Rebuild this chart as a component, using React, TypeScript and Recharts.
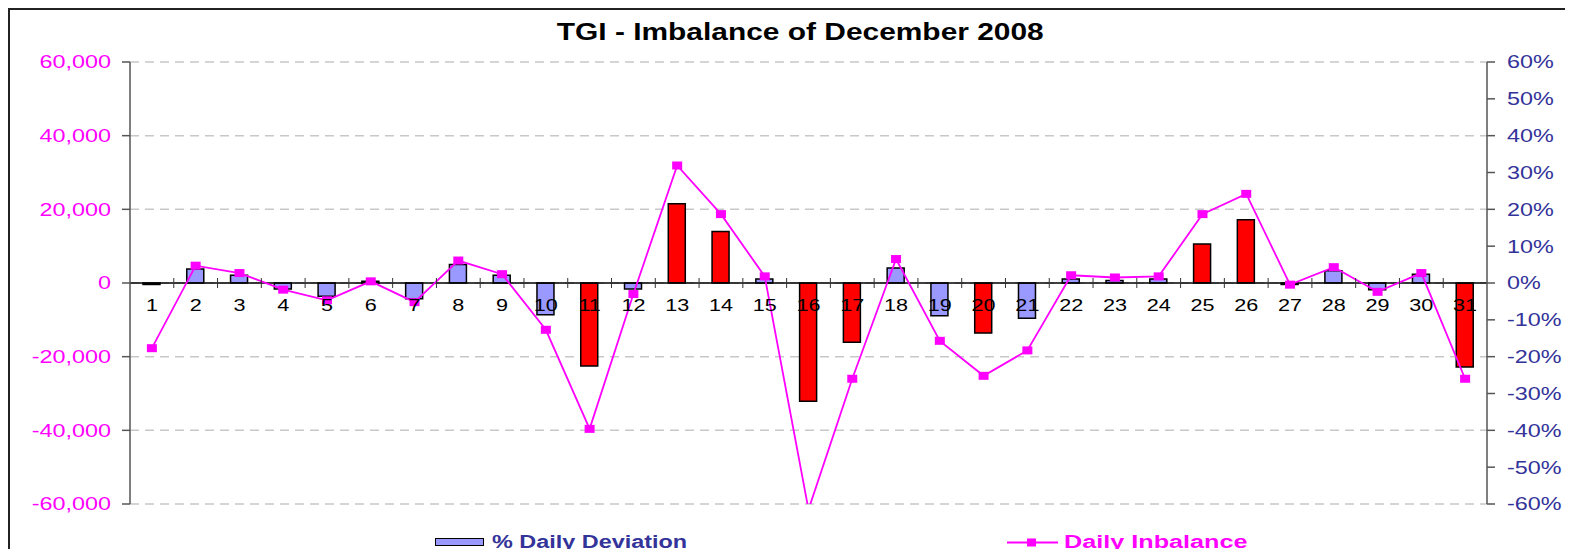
import React from 'react';
import {
  ComposedChart,
  Bar,
  Line,
  Cell,
  XAxis,
  YAxis,
  CartesianGrid,
  ReferenceLine,
} from 'recharts';

// days of December 2008
const days = [
  '1', '2', '3', '4', '5', '6', '7', '8', '9', '10', '11', '12', '13', '14', '15', '16',
  '17', '18', '19', '20', '21', '22', '23', '24', '25', '26', '27', '28', '29', '30', '31',
];

// % daily deviation (bars, right axis)
const deviation = [
  -0.004, 0.038, 0.021, -0.016, -0.036, 0.005, -0.043, 0.05, 0.021, -0.086, -0.225, -0.016,
  0.215, 0.14, 0.011, -0.321, -0.161, 0.041, -0.089, -0.136, -0.096, 0.011, 0.007, 0.011,
  0.106, 0.172, -0.004, 0.033, -0.018, 0.024, -0.228,
];

// daily imbalance (line, left axis)
const imbalance = [
  -17700, 4700, 2700, -1800, -4700, 450, -5200, 6100, 2400, -12700, -39600, -3000, 31900,
  18700, 1800, -61500, -26000, 6500, -15700, -25200, -18300, 2100, 1500, 1800, 18700, 24200,
  -450, 4300, -2400, 2700, -26000,
];

const leftTicks = [-60000, -40000, -20000, 0, 20000, 40000, 60000];
const rightTicks = [-0.6, -0.5, -0.4, -0.3, -0.2, -0.1, 0, 0.1, 0.2, 0.3, 0.4, 0.5, 0.6];

const data = days.map((day, i) => ({
  day,
  deviation: deviation[i],
  imbalance: imbalance[i],
}));

const FONT = '"Liberation Sans", Arial, sans-serif';
const STRETCH = 1.3;
const PLOT_TOP = 52;
const PLOT_H = 442;
const PLOT_W = 1357;
const ZERO_Y = PLOT_TOP + PLOT_H / 2;
const BAND = PLOT_W / days.length;

const StretchText = ({ x, y, text, anchor, fill, size }: any) => (
  <text
    transform={`translate(${x},${y}) scale(${STRETCH},1)`}
    textAnchor={anchor}
    fill={fill}
    fontSize={size}
    fontFamily={FONT}
    dy="0.36em"
  >
    {text}
  </text>
);

const LeftTick = ({ x, y, payload }: any) => (
  <StretchText
    x={x}
    y={y}
    anchor="end"
    fill="#FF00FF"
    size={18}
    text={Number(payload.value).toLocaleString('en-US')}
  />
);

const RightTick = ({ x, y, payload }: any) => (
  <StretchText
    x={x}
    y={y}
    anchor="start"
    fill="#333399"
    size={18}
    text={`${Math.round(payload.value * 100)}%`}
  />
);

// day labels sit under the zero line, tick marks between the days
const DayTick = ({ x, payload, index }: any) => (
  <g>
    {index > 0 && (
      <line
        x1={x - BAND / 2}
        x2={x - BAND / 2}
        y1={ZERO_Y - 5}
        y2={ZERO_Y + 5}
        stroke="#333"
        strokeWidth={1}
      />
    )}
    <text
      transform={`translate(${x},${ZERO_Y + 28}) scale(1.35,1)`}
      textAnchor="middle"
      fill="#000"
      fontSize={16}
      fontFamily={FONT}
    >
      {payload.value}
    </text>
  </g>
);

const SquareDot = (props: any) => {
  const { cx, cy, index } = props;
  if (cx == null || cy == null) return null;
  return <rect key={`dot-${index}`} x={cx - 5} y={cy - 4} width={10} height={8} fill="#FF00FF" />;
};

export default function App() {
  return (
    <div
      style={{
        position: 'relative',
        width: 1600,
        height: 600,
        border: '2px solid #222',
        fontFamily: FONT,
      }}
    >
      <style>{'body{overflow:hidden}'}</style>

      <div
        style={{
          position: 'absolute',
          left: 0,
          top: 11,
          width: 1580,
          textAlign: 'center',
          fontSize: 23,
          lineHeight: '23px',
          fontWeight: 'bold',
          color: '#000',
        }}
      >
        <span style={{ display: 'inline-block', transform: 'scaleX(1.3)' }}>
          TGI - Imbalance of December 2008
        </span>
      </div>

      <div style={{ position: 'absolute', left: 0, top: 0 }}>
        <ComposedChart
          width={1563}
          height={560}
          data={data}
          margin={{ top: PLOT_TOP, right: 0, bottom: 36, left: 0 }}
          barCategoryGap={0}
        >
          <CartesianGrid
            yAxisId="left"
            vertical={false}
            stroke="#c8c8c8"
            strokeWidth={1.5}
            strokeDasharray="9 6"
          />
          <XAxis
            dataKey="day"
            axisLine={false}
            tickLine={false}
            interval={0}
            height={30}
            tick={<DayTick />}
          />
          <YAxis
            yAxisId="left"
            width={120}
            domain={[-60000, 60000]}
            ticks={leftTicks}
            allowDataOverflow
            interval={0}
            tickSize={8}
            tickMargin={11}
            axisLine={{ stroke: '#555', strokeWidth: 1.5 }}
            tickLine={{ stroke: '#555', strokeWidth: 1.5 }}
            tick={<LeftTick />}
          />
          <YAxis
            yAxisId="right"
            orientation="right"
            width={86}
            domain={[-0.6, 0.6]}
            ticks={rightTicks}
            allowDataOverflow
            interval={0}
            tickSize={8}
            tickMargin={12}
            axisLine={{ stroke: '#555', strokeWidth: 1.5 }}
            tickLine={{ stroke: '#555', strokeWidth: 1.5 }}
            tick={<RightTick />}
          />
          <Bar
            yAxisId="right"
            dataKey="deviation"
            barSize={17}
            stroke="#000"
            strokeWidth={1.5}
            isAnimationActive={false}
          >
            {data.map((d, i) => (
              <Cell key={`cell-${i}`} fill={Math.abs(d.deviation) >= 0.1 ? '#FF0000' : '#9999FF'} />
            ))}
          </Bar>
          <ReferenceLine yAxisId="left" y={0} stroke="#000" strokeWidth={1.5} />
          <Line
            yAxisId="left"
            type="linear"
            dataKey="imbalance"
            stroke="#FF00FF"
            strokeWidth={1.8}
            dot={SquareDot}
            activeDot={false}
            isAnimationActive={false}
          />
        </ComposedChart>
      </div>

      {/* legend, cut by the bottom edge as in the original */}
      <div
        style={{
          position: 'absolute',
          left: 425,
          top: 528,
          width: 47,
          height: 6,
          background: '#9999FF',
          border: '1.5px solid #000',
        }}
      />
      <div
        style={{
          position: 'absolute',
          left: 482,
          top: 523,
          fontSize: 18,
          lineHeight: '18px',
          fontWeight: 'bold',
          color: '#333399',
          whiteSpace: 'nowrap',
          transform: 'scaleX(1.3)',
          transformOrigin: 'left center',
        }}
      >
        % Daily Deviation
      </div>
      <svg style={{ position: 'absolute', left: 995, top: 526 }} width={56} height={14}>
        <line x1={2} x2={53} y1={6.5} y2={6.5} stroke="#FF00FF" strokeWidth={1.8} />
        <rect x={22} y={2.5} width={9} height={8} fill="#FF00FF" />
      </svg>
      <div
        style={{
          position: 'absolute',
          left: 1054,
          top: 523,
          fontSize: 18,
          lineHeight: '18px',
          fontWeight: 'bold',
          color: '#FF00FF',
          whiteSpace: 'nowrap',
          transform: 'scaleX(1.4)',
          transformOrigin: 'left center',
        }}
      >
        Daily Inbalance
      </div>
    </div>
  );
}
